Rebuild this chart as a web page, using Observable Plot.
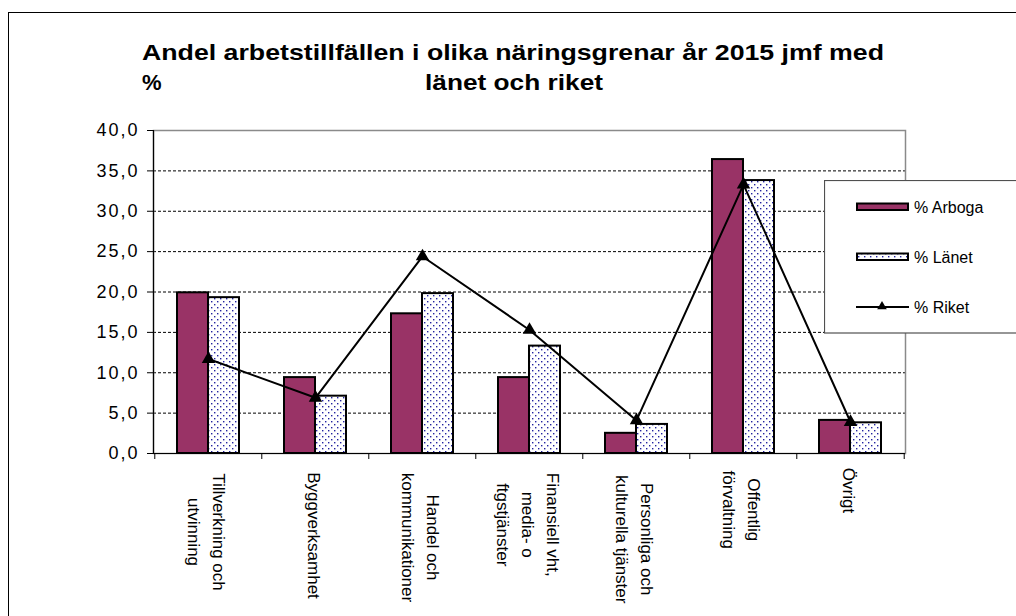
<!DOCTYPE html>
<html><head><meta charset="utf-8">
<script src="https://cdn.jsdelivr.net/npm/d3@7"></script>
<script src="https://cdn.jsdelivr.net/npm/@observablehq/plot@0.6"></script>
<style>
html,body{margin:0;padding:0;background:#fff;overflow:hidden;width:1016px;height:616px;}
#wrap{position:relative;width:1016px;height:616px;font-family:"Liberation Sans",Arial,sans-serif;}
#border{position:absolute;left:8px;top:12px;width:1100px;height:700px;border-left:1px solid #000;border-top:1px solid #000;}
#chart{position:absolute;left:0;top:0;}
#title{position:absolute;left:0;top:0;}
#legend{position:absolute;left:824px;top:180px;}
g[aria-label="y-axis tick label"]{letter-spacing:2px;}
g[aria-label="x-label"]{letter-spacing:1.1px;}
</style></head><body>
<div id="wrap"><div id="border"></div><div id="chart"></div><svg id="title" width="1016" height="100"></svg><svg id="legend" width="192" height="154"></svg></div>
<script>
const categories = ["Tillverkning och\nutvinning","Byggverksamhet","Handel och\nkommunikationer","Finansiell vht,\nmedia- o\nftgstjänster","Personliga och\nkulturella tjänster","Offentlig\nförvaltning","Övrigt"];
const arboga = [19.9, 9.4, 17.3, 9.4, 2.5, 36.4, 4.1];
const lanet  = [19.3, 7.1, 19.8, 13.3, 3.6, 33.8, 3.8];
const riket  = [11.7, 6.9, 24.4, 15.3, 4.1, 33.3, 3.9];
const seriesNames = ["% Arboga", "% Länet", "% Riket"];
const yTicks = [0,5,10,15,20,25,30,35,40];
const gridValues = [5,10,15,20,25,30,35];
const titleLine1 = "Andel arbetstillfällen i olika näringsgrenar år 2015 jmf med";
const titleLine2a = "%";
const titleLine2b = "länet och riket";

const W=1016,H=616,mL=153,mR=111,mT=130,mB=163;
const step=(W-mL-mR)/categories.length;
const padInner=0.423;
const bw=step*(1-padInner);
const plum="#993366";

const FS=17, LS=1.1;
const ctx=document.createElement("canvas").getContext("2d");
ctx.font=FS+"px 'Liberation Sans'";
const lineLen=s=>ctx.measureText(s).width+LS*s.length;

const fmt=d=>d.toFixed(1).replace(".",",");

const labelMarks=categories.map(c=>Plot.text([c],{x:d=>d,text:d=>d,frameAnchor:"bottom",rotate:90,textAnchor:"middle",lineAnchor:"middle",lineHeight:25/FS,fontSize:FS,fill:"black",dy:11+d3.max(c.split("\n"),lineLen)/2,ariaLabel:"x-label"}));

const chart=Plot.plot({
  width:W,height:H,marginLeft:mL,marginRight:mR,marginTop:mT,marginBottom:mB,
  style:{fontFamily:"'Liberation Sans', Arial, sans-serif",fontSize:"16px",color:"black",background:"transparent",overflow:"visible"},
  x:{domain:categories,paddingInner:padInner,paddingOuter:padInner/2},
  y:{domain:[0,40]},
  marks:[
    Plot.ruleY(gridValues,{stroke:"black",strokeWidth:1,strokeDasharray:"3,2"}),
    Plot.frame({stroke:"#8a8a8a",strokeWidth:1.5}),
    Plot.barY(arboga,{x:categories,y:arboga,fill:plum,stroke:"black",strokeWidth:2,insetRight:bw/2}),
    Plot.barY(lanet,{x:categories,y:lanet,fill:"url(#dots)",stroke:"black",strokeWidth:2,insetLeft:bw/2}),
    Plot.line(riket,{x:categories,y:riket,stroke:"black",strokeWidth:2}),
    Plot.dot(riket,{x:categories,y:riket,symbol:"triangle",r:5,fill:"black"}),
    Plot.frame({anchor:"left",stroke:"black",strokeWidth:1.2}),
    Plot.ruleY([0],{stroke:"black",strokeWidth:1.2}),
    Plot.axisY({ticks:yTicks,tickSize:6,tickPadding:8,tickFormat:fmt,fontSize:18,label:null}),
    Plot.axisX({ticks:categories,tickSize:6,dx:-step/2,tickFormat:()=>"",label:null}),
    Plot.axisX({ticks:[categories[categories.length-1]],tickSize:6,dx:step/2,tickFormat:()=>"",label:null}),
    ...labelMarks
  ]
});
document.getElementById("chart").appendChild(chart);

const svg=d3.select(chart);
const defs=svg.insert("defs",":first-child");
const pat=defs.append("pattern").attr("id","dots").attr("patternUnits","userSpaceOnUse").attr("width",6).attr("height",6);
pat.append("rect").attr("width",6).attr("height",6).attr("fill","white");
pat.append("rect").attr("x",1).attr("y",1).attr("width",1.4).attr("height",1.4).attr("fill","#2323a0");
pat.append("rect").attr("x",4).attr("y",4).attr("width",1.4).attr("height",1.4).attr("fill","#2323a0");

// title
const t=d3.select("#title").style("font-family","'Liberation Sans', Arial, sans-serif").style("font-weight","bold").style("font-size","22px");
t.append("text").attr("x",142).attr("y",60).attr("textLength",742).attr("lengthAdjust","spacingAndGlyphs").text(titleLine1);
t.append("text").attr("x",142).attr("y",90).text(titleLine2a);
t.append("text").attr("x",425).attr("y",90).attr("textLength",178).attr("lengthAdjust","spacingAndGlyphs").text(titleLine2b);

// legend
const lg=d3.select("#legend").style("font-family","'Liberation Sans', Arial, sans-serif").style("font-size","16px");
lg.append("rect").attr("x",0.5).attr("y",0.5).attr("width",260).attr("height",152.5).attr("fill","white").attr("stroke","#505050").attr("stroke-width",1.2);
const rowY=[27,77,127];
lg.append("rect").attr("x",33).attr("y",rowY[0]-3.5).attr("width",51).attr("height",6.5).attr("fill",plum).attr("stroke","black").attr("stroke-width",2);
lg.append("rect").attr("x",33).attr("y",rowY[1]-3.5).attr("width",51).attr("height",6.5).attr("fill","url(#dots)").attr("stroke","black").attr("stroke-width",2);
lg.append("line").attr("x1",32).attr("x2",85).attr("y1",rowY[2]).attr("y2",rowY[2]).attr("stroke","black").attr("stroke-width",2);
lg.append("path").attr("d",d3.symbol(d3.symbolTriangle,40)()).attr("transform",`translate(58,${rowY[2]-0.5})`).attr("fill","black");
seriesNames.forEach((s,i)=>lg.append("text").attr("x",90).attr("y",rowY[i]+5.5).attr("fill","black").text(s));
</script>
</body></html>
